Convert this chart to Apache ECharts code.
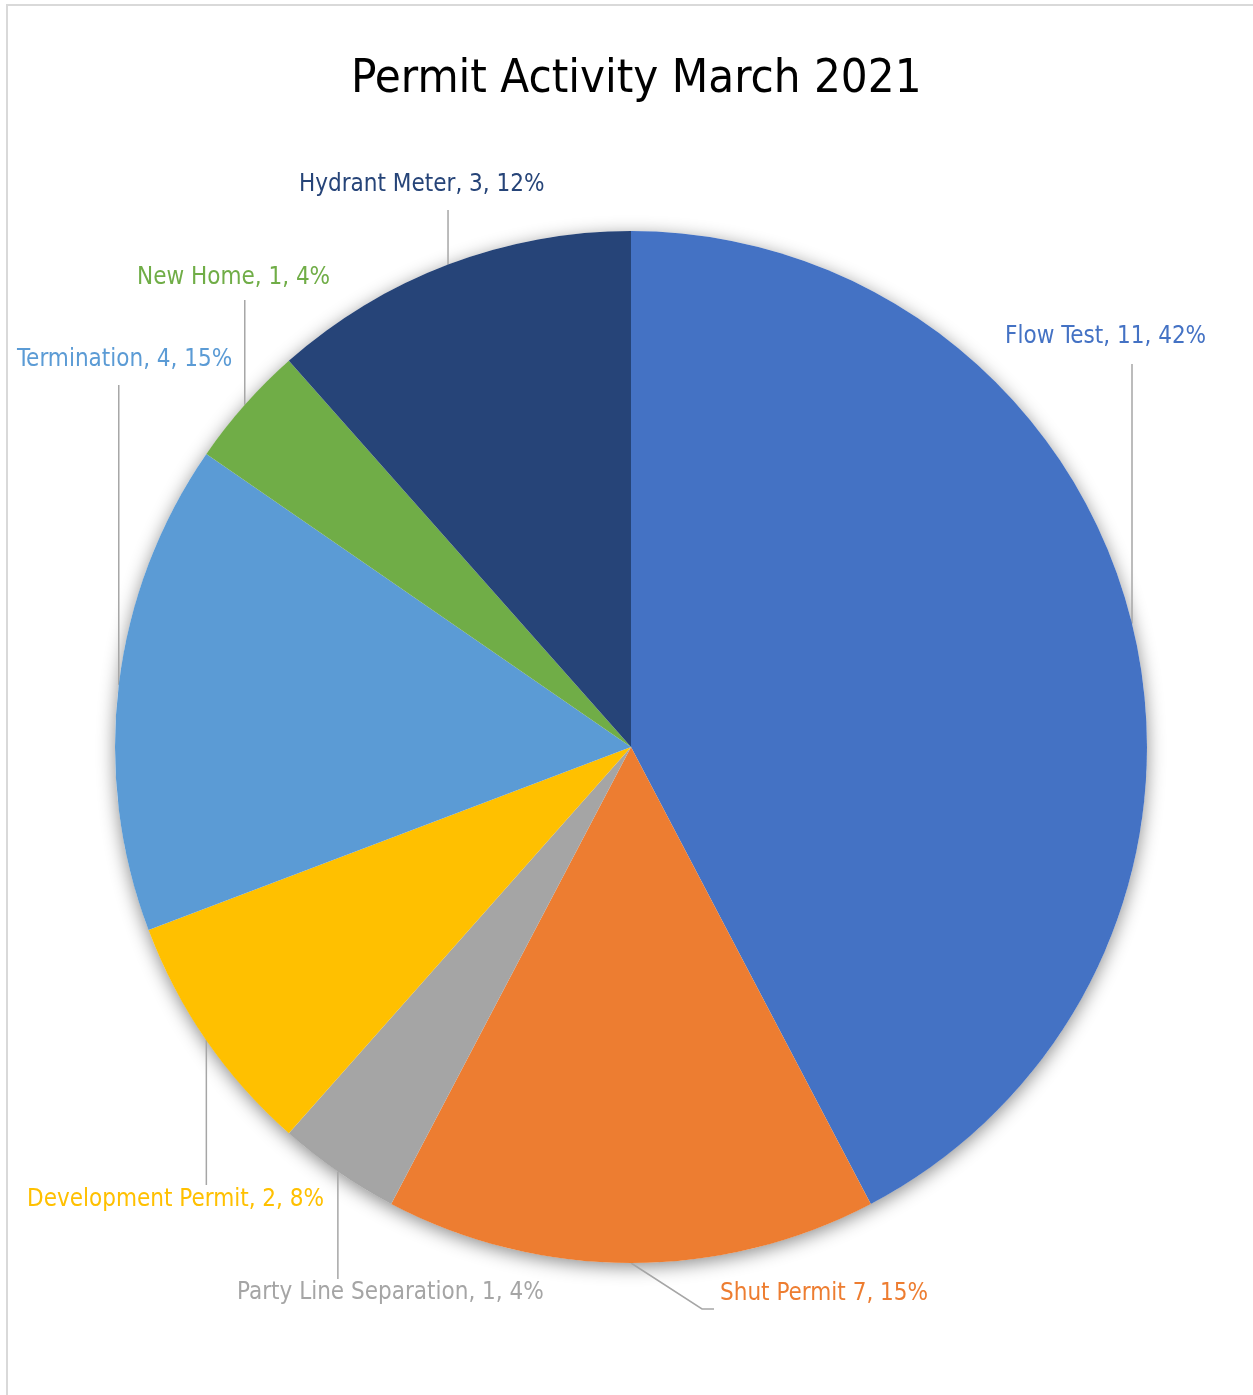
<!DOCTYPE html>
<html>
<head>
<meta charset="utf-8">
<script src="https://cdn.jsdelivr.net/npm/echarts@6/dist/echarts.min.js"></script>
<style>
  html, body { margin: 0; padding: 0; background: #fff; }
  .wrap { position: relative; width: 1253px; height: 1395px; overflow: hidden; }
  .frame {
    position: absolute; left: 6px; top: 4px; width: 1400px; height: 1500px;
    border-left: 2px solid #d9d9d9; border-top: 2px solid #d9d9d9;
    pointer-events: none;
  }
  #chart { position: absolute; left: 0; top: 0; width: 1253px; height: 1395px; }
</style>
</head>
<body>
<div class="wrap">
  <div id="chart"></div>
  <div class="frame"></div>
</div>
<script>
// data
const categories = ['Flow Test', 'Shut Permit', 'Party Line Separation', 'Development Permit', 'Termination', 'New Home', 'Hydrant Meter']
const values = [11, 4, 1, 2, 4, 1, 3]
// counts as printed on the labels (Shut Permit label reads 7)
const shownCounts = [11, 7, 1, 2, 4, 1, 3]
const nameSeps = [', ', ' ', ', ', ', ', ', ', ', ', ', ']
const colors = ['#4472C4', '#ED7D31', '#A5A5A5', '#FFC000', '#5B9BD5', '#70AD47', '#264478']

// label placement (left x, middle y, leader end y)
const labelPos = [
  { x: 1005, y: 337, endY: 364 },
  { x: 720, y: 1294, endY: 1309, elbow: true },
  { x: 237, y: 1293, endY: 1279 },
  { x: 27, y: 1200, endY: 1185 },
  { x: 17, y: 360, endY: 385 },
  { x: 137, y: 278, endY: 300 },
  { x: 299, y: 185, endY: 210 }
]

const FONT = '"DejaVu Sans Condensed", "Liberation Sans", sans-serif'

const chart = echarts.init(document.getElementById('chart'))

const edgePoint = (idx) => {
  const lay = chart.getModel().getSeriesByIndex(1).getData().getItemLayout(idx)
  const mid = (lay.startAngle + lay.endAngle) / 2
  return [lay.cx + lay.r * Math.cos(mid), lay.cy + lay.r * Math.sin(mid)]
}

const option = {
  animation: false,
  title: {
    text: 'Permit Activity March 2021',
    left: 346,
    top: 51,
    textStyle: { fontFamily: FONT, fontSize: 47, fontWeight: 'normal', color: '#000' }
  },
  series: [
    {
      // backing disc that carries the outer shadow
      type: 'pie',
      silent: true,
      z: 1,
      center: [631, 747],
      radius: 516,
      label: { show: false },
      labelLine: { show: false },
      itemStyle: {
        color: '#fff',
        shadowBlur: 18,
        shadowColor: 'rgba(0,0,0,0.45)',
        shadowOffsetY: 4
      },
      data: [{ value: 1, name: '' }]
    },
    {
      type: 'pie',
      z: 2,
      center: [631, 747],
      radius: 516,
      startAngle: 90,
      clockwise: true,
      percentPrecision: 0,
      data: categories.map((c, i) => ({ name: c, value: values[i], itemStyle: { color: colors[i] } })),
      itemStyle: { borderWidth: 0 },
      label: {
        show: true,
        position: 'outside',
        fontFamily: FONT,
        fontSize: 24,
        overflow: 'none',
        width: 600,
        formatter: (p) => p.name + nameSeps[p.dataIndex] + shownCounts[p.dataIndex] + ', ' + p.percent + '%'
      },
      labelLine: {
        show: true,
        lineStyle: { color: '#a6a6a6', width: 1.5 }
      },
      labelLayout: (params) => {
        const i = params.dataIndex
        const p = labelPos[i]
        const s = edgePoint(i)
        let pts
        if (p.elbow) {
          pts = [[s[0], s[1]], [p.x - 18, p.endY], [p.x - 6, p.endY]]
        } else {
          pts = [[s[0], s[1]], [s[0], p.endY], [s[0], p.endY]]
        }
        return { x: p.x, y: p.y, align: 'left', verticalAlign: 'middle', width: 600, labelLinePoints: pts }
      }
    }
  ]
}

// label text colours follow the slices
option.series[1].data.forEach((d, i) => { d.label = { color: colors[i] } })

chart.setOption(option)
</script>
</body>
</html>
